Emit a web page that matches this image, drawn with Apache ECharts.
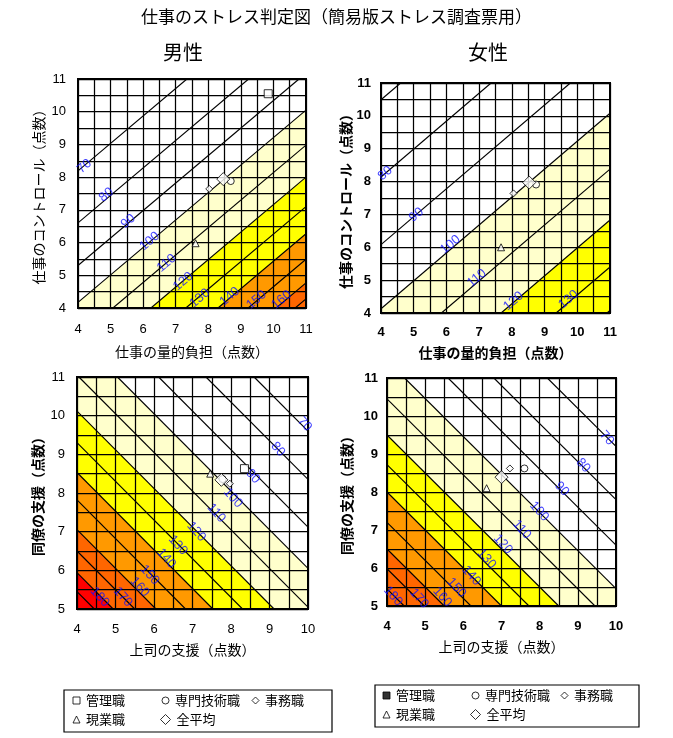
<!DOCTYPE html>
<html><head><meta charset="utf-8">
<script src="https://cdn.jsdelivr.net/npm/echarts@6/dist/echarts.min.js"></script>
<style>html,body{margin:0;padding:0;background:#fff}#c{width:673px;height:738px}</style>
</head><body><div id="c"></div>
<script>
const JP = '"Noto Sans CJK JP", sans-serif';
const NUM = '"Liberation Sans", Arial, sans-serif';

// ---------- titles ----------
const mainTitle = '仕事のストレス判定図（簡易版ストレス調査票用）';
const sexTitles = ['男性', '女性'];
const jobNames = ['管理職', '専門技術職', '事務職', '現業職', '全平均'];

// ---------- contour lines (level, y at left edge, y at right edge) ----------
// Panel 1: male, 量的負担 (x 4..11) vs コントロール (y 4..11)
const mQcLevels = [70, 80, 90, 100, 110, 120, 130, 140, 150, 160, 170];
const mQcYLeft  = [8.19, 6.60, 5.30, 4.17, 3.10, 2.12, 1.22, 0.39, -0.39, -1.11, -1.60];
const mQcYRight = [14.07, 12.48, 11.18, 10.05, 8.98, 8.00, 7.10, 6.27, 5.49, 4.77, 4.28];
// Panel 2: female, 量的負担 vs コントロール
const fQcLevels = [70, 80, 90, 100, 110, 120, 130, 140];
const fQcYLeft  = [10.49, 8.14, 6.08, 4.13, 2.43, 0.88, -0.55, -1.87];
const fQcYRight = [16.44, 14.09, 12.03, 10.08, 8.38, 6.83, 5.40, 4.08];
// Panel 3: male, 上司の支援 (x 4..10) vs 同僚の支援 (y 5..11)
const mSupLevels = [70, 80, 90, 100, 110, 120, 130, 140, 150, 160, 170, 180, 190];
const mSupYLeft  = [15.6, 14.35, 13.12, 12.05, 11.05, 10.12, 9.30, 8.53, 7.82, 7.05, 6.50, 5.94, 5.45];
const mSupYRight = [9.6, 8.35, 7.12, 6.05, 5.05, 4.12, 3.30, 2.53, 1.82, 1.05, 0.50, -0.06, -0.55];
// Panel 4: female, 上司の支援 vs 同僚の支援
const fSupLevels = [70, 80, 90, 100, 110, 120, 130, 140, 150, 160, 170, 180];
const fSupYLeft  = [15.2, 13.8, 12.6, 11.46, 10.45, 9.5, 8.72, 8.0, 7.2, 6.5, 5.98, 5.45];
const fSupYRight = [9.2, 7.8, 6.6, 5.46, 4.45, 3.5, 2.72, 2.0, 1.2, 0.5, -0.02, -0.55];

// filled risk bands (level at which the band starts)
const mQcFills  = [100, 120, 140, 160];
const fQcFills  = [100, 120, 140];
const mSupFills = [100, 120, 140, 160, 180];
const fSupFills = [100, 120, 140, 160];

// ---------- contour label positions [x, y, level] ----------
const mQcLabels = [[4.2,8.33,70],[4.87,7.46,80],[5.54,6.65,90],[6.2,6.04,100],[6.72,5.37,110],[7.23,4.81,120],[7.74,4.30,130],[8.66,4.35,140],[9.48,4.25,150],[10.25,4.25,160]];
const fQcLabels = [[4.13,8.25,80],[5.08,6.99,90],[6.12,6.08,100],[6.93,5.06,110],[8.05,4.36,120],[9.73,4.41,130]];
const mSupLabels = [[4.59,5.31,180],[5.19,5.31,170],[5.63,5.57,160],[5.89,5.88,150],[6.32,6.31,140],[6.62,6.65,130],[7.10,7.0,120],[7.62,7.48,110],[8.05,7.87,100],[8.57,8.43,90],[9.22,9.13,80],[9.91,9.78,70]];
const fSupLabels = [[4.16,5.26,180],[4.84,5.2,170],[5.45,5.24,160],[5.82,5.48,150],[6.21,5.80,140],[6.61,6.24,130],[7.04,6.63,120],[7.53,7.01,110],[7.99,7.49,100],[8.58,8.08,90],[9.14,8.70,80],[9.76,9.42,70]];

// ---------- group points [x, y] (null = no data) ----------
// order: 管理職, 専門技術職, 事務職, 現業職, 全平均
const mQcPoints  = [[9.84,10.55],[8.69,7.88],[8.03,7.64],[7.61,5.98],[8.46,7.94]];
const fQcPoints  = [null,[8.74,7.91],[8.05,7.64],[7.67,6.0],[8.53,7.97]];
const mSupPoints = [[8.35,8.63],[7.78,8.36],[7.97,8.24],[7.46,8.50],[7.75,8.34]];
const fSupPoints = [null,[7.60,8.62],[7.22,8.62],[6.61,8.10],[7.0,8.39]];

// ---------- axis ranges / names ----------
const qcX = [4, 11], qcY = [4, 11], supX = [4, 10], supY = [5, 11];
const nameQ = '仕事の量的負担（点数）', nameC = '仕事のコントロール（点数）';
const nameBoss = '上司の支援（点数）', namePeer = '同僚の支援（点数）';

// ---------- styles ----------
const fillColors = {100:'#FFFFCC', 120:'#FFFF00', 140:'#FF9900', 160:'#FF6600', 180:'#FF0000'};
const symbols = ['rect','circle','diamond','triangle','diamond'];
const symSizes = [8, 7, 7, 7, 13];

const panels = [
  {grid:{left:78, top:79, width:228, height:229}, xr:qcX, yr:qcY, xn:nameQ, yn:nameC,
   levels:mQcLevels, yl:mQcYLeft, yr2:mQcYRight, fills:mQcFills, labels:mQcLabels, rot:40, pts:mQcPoints,
   bold:false, xNameBold:false, yNameBold:false, xGap:37, yGap:32, xMargin:15, yMargin:12},
  {grid:{left:381, top:83, width:229, height:230}, xr:qcX, yr:qcY, xn:nameQ, yn:nameC,
   levels:fQcLevels, yl:fQcYLeft, yr2:fQcYRight, fills:fQcFills, labels:fQcLabels, rot:40, pts:fQcPoints,
   bold:true, xNameBold:true, yNameBold:true, xGap:33, yGap:28, xMargin:13, yMargin:10},
  {grid:{left:77, top:377, width:231, height:232}, xr:supX, yr:supY, xn:nameBoss, yn:namePeer,
   levels:mSupLevels, yl:mSupYLeft, yr2:mSupYRight, fills:mSupFills, labels:mSupLabels, rot:-48, pts:mSupPoints,
   bold:false, xNameBold:false, yNameBold:true, xGap:34, yGap:32, xMargin:14, yMargin:12},
  {grid:{left:387, top:378, width:229, height:228}, xr:supX, yr:supY, xn:nameBoss, yn:namePeer,
   levels:fSupLevels, yl:fSupYLeft, yr2:fSupYRight, fills:fSupFills, labels:fSupLabels, rot:-48, pts:fSupPoints,
   bold:true, xNameBold:false, yNameBold:true, xGap:34, yGap:33, xMargin:14, yMargin:9}
];

// clip a segment to the plot rectangle (Liang-Barsky); returns [[x,y],[x,y]] or null
function clipSeg(x0, y0, x1, y1, xr, yr) {
  let t0 = 0, t1 = 1;
  const dx = x1 - x0, dy = y1 - y0;
  const ps = [-dx, dx, -dy, dy];
  const qs = [x0 - xr[0], xr[1] - x0, y0 - yr[0], yr[1] - y0];
  for (let i = 0; i < 4; i++) {
    if (ps[i] === 0) { if (qs[i] < 0) return null; continue; }
    const t = qs[i] / ps[i];
    if (ps[i] < 0) { if (t > t1) return null; if (t > t0) t0 = t; }
    else { if (t < t0) return null; if (t < t1) t1 = t; }
  }
  return [[x0 + t0 * dx, y0 + t0 * dy], [x0 + t1 * dx, y0 + t1 * dy]];
}

const grids = [], xAxes = [], yAxes = [], series = [];
const gridLine = {show:true, lineStyle:{color:'#000', width:1.25}};
const EPS = 1e-6;

panels.forEach((p, gi) => {
  grids.push(Object.assign({show:true, borderColor:'#000', borderWidth:2, z:4, containLabel:false}, p.grid));
  const lab = (m) => ({margin:m, color:'#000', fontSize:13, fontFamily:NUM, fontWeight:p.bold?'bold':'normal'});
  xAxes.push({type:'value', gridIndex:gi, min:p.xr[0], max:p.xr[1], interval:1, z:3,
    axisLine:{show:true, lineStyle:{color:'#000', width:1.5}}, axisTick:{show:false},
    axisLabel:lab(p.xMargin), splitLine:gridLine,
    minorTick:{show:false, splitNumber:2}, minorSplitLine:gridLine,
    name:p.xn, nameLocation:'middle', nameGap:p.xGap,
    nameTextStyle:{color:'#000', fontSize:14, fontFamily:JP, fontWeight:p.xNameBold?'bold':'normal'}});
  yAxes.push({type:'value', gridIndex:gi, min:p.yr[0], max:p.yr[1], interval:1, z:3,
    axisLine:{show:true, lineStyle:{color:'#000', width:1.5}}, axisTick:{show:false},
    axisLabel:lab(p.yMargin), splitLine:gridLine,
    minorTick:{show:false, splitNumber:2}, minorSplitLine:gridLine,
    name:p.yn, nameLocation:'middle', nameGap:p.yGap,
    nameTextStyle:{color:'#000', fontSize:14, fontFamily:JP, fontWeight:p.yNameBold?'bold':'normal'}});

  // fills first (lowest level first, later ones on top)
  p.levels.forEach((lv, k) => {
    if (!p.fills.includes(lv)) return;
    const seg = clipSeg(p.xr[0], p.yl[k], p.xr[1], p.yr2[k], p.xr, p.yr);
    if (!seg) return;
    const pts = [];
    if (Math.abs(seg[0][1] - p.yr[1]) < EPS && seg[0][0] > p.xr[0] + EPS) pts.push([p.xr[0], p.yr[1]]);
    pts.push(seg[0], seg[1]);
    if (Math.abs(seg[1][1] - p.yr[1]) < EPS && seg[1][0] < p.xr[1] - EPS) pts.push([p.xr[1], p.yr[1]]);
    series.push({type:'line', xAxisIndex:gi, yAxisIndex:gi, silent:true, symbol:'none', z:1,
      animation:false, data:pts, lineStyle:{width:0, opacity:0},
      areaStyle:{color:fillColors[lv], opacity:1, origin:'start'}});
  });
  // contour lines
  p.levels.forEach((lv, k) => {
    const seg = clipSeg(p.xr[0], p.yl[k], p.xr[1], p.yr2[k], p.xr, p.yr);
    if (!seg) return;
    series.push({type:'line', xAxisIndex:gi, yAxisIndex:gi, silent:true, symbol:'none', z:2,
      animation:false, data:seg, lineStyle:{color:'#000', width:1.1}});
  });

  series.push({type:'scatter', xAxisIndex:gi, yAxisIndex:gi, silent:true, z:6, animation:false,
    symbolSize:0.1, itemStyle:{color:'transparent'},
    data:p.labels.map(d => d.slice()),
    label:{show:true, position:'inside', formatter:(d) => String(d.value[2]), rotate:p.rot,
      color:'#1010ff', fontSize:13, fontFamily:NUM}});

  p.pts.forEach((pt, j) => {
    series.push({type:'scatter', name:jobNames[j], xAxisIndex:gi, yAxisIndex:gi, z:7, animation:false,
      symbol:symbols[j], symbolSize:symSizes[j],
      itemStyle:{color:'#fff', borderColor:'#000', borderWidth:1},
      data: pt ? [pt] : []});
  });
});

// ---------- legends ----------
const legendPos = [
  // left box
  {x:76, y:702, j:0, size:7}, {x:165, y:702, j:1, size:7}, {x:255, y:702, j:2, size:7},
  {x:76, y:721, j:3, size:7}, {x:165, y:721, j:4, size:10},
  // right box
  {x:386, y:697, j:0, size:7, filled:true}, {x:475, y:697, j:1, size:7}, {x:564, y:697, j:2, size:7},
  {x:386, y:716, j:3, size:7}, {x:475, y:716, j:4, size:10}
];
const legends = legendPos.map(L => ({
  left: L.x - L.size/2, top: L.y - 8, padding:0, itemGap:0, selectedMode:false,
  itemWidth:L.size, itemHeight:L.size,
  textStyle:{color:'#000', fontSize:13, fontFamily:JP, padding:[0,0,0,1]},
  data:[{name:jobNames[L.j], icon:symbols[L.j],
    itemStyle: L.filled ? {color:'#000', borderColor:'#000', borderWidth:1} : {color:'#fff', borderColor:'#000', borderWidth:1}}]
}));

const option = {
  backgroundColor:'#fff',
  animation:false,
  title:[
    {text:mainTitle, left:'center', top:8, padding:0, textStyle:{fontSize:17, fontWeight:'normal', color:'#000', fontFamily:JP}},
    {text:sexTitles[0], left:163, top:42, padding:0, textStyle:{fontSize:20, fontWeight:'normal', color:'#000', fontFamily:JP}},
    {text:sexTitles[1], left:468, top:42, padding:0, textStyle:{fontSize:20, fontWeight:'normal', color:'#000', fontFamily:JP}}
  ],
  grid:grids, xAxis:xAxes, yAxis:yAxes, series:series, legend:legends,
  graphic:[
    {type:'rect', shape:{x:64, y:690, width:268, height:42}, style:{fill:'none', stroke:'#000', lineWidth:1.2}, z:1},
    {type:'rect', shape:{x:375, y:685, width:264, height:42}, style:{fill:'none', stroke:'#000', lineWidth:1.2}, z:1}
  ]
};
const chart = echarts.init(document.getElementById('c'), null, {renderer:'canvas'});
chart.setOption(option);
</script></body></html>
